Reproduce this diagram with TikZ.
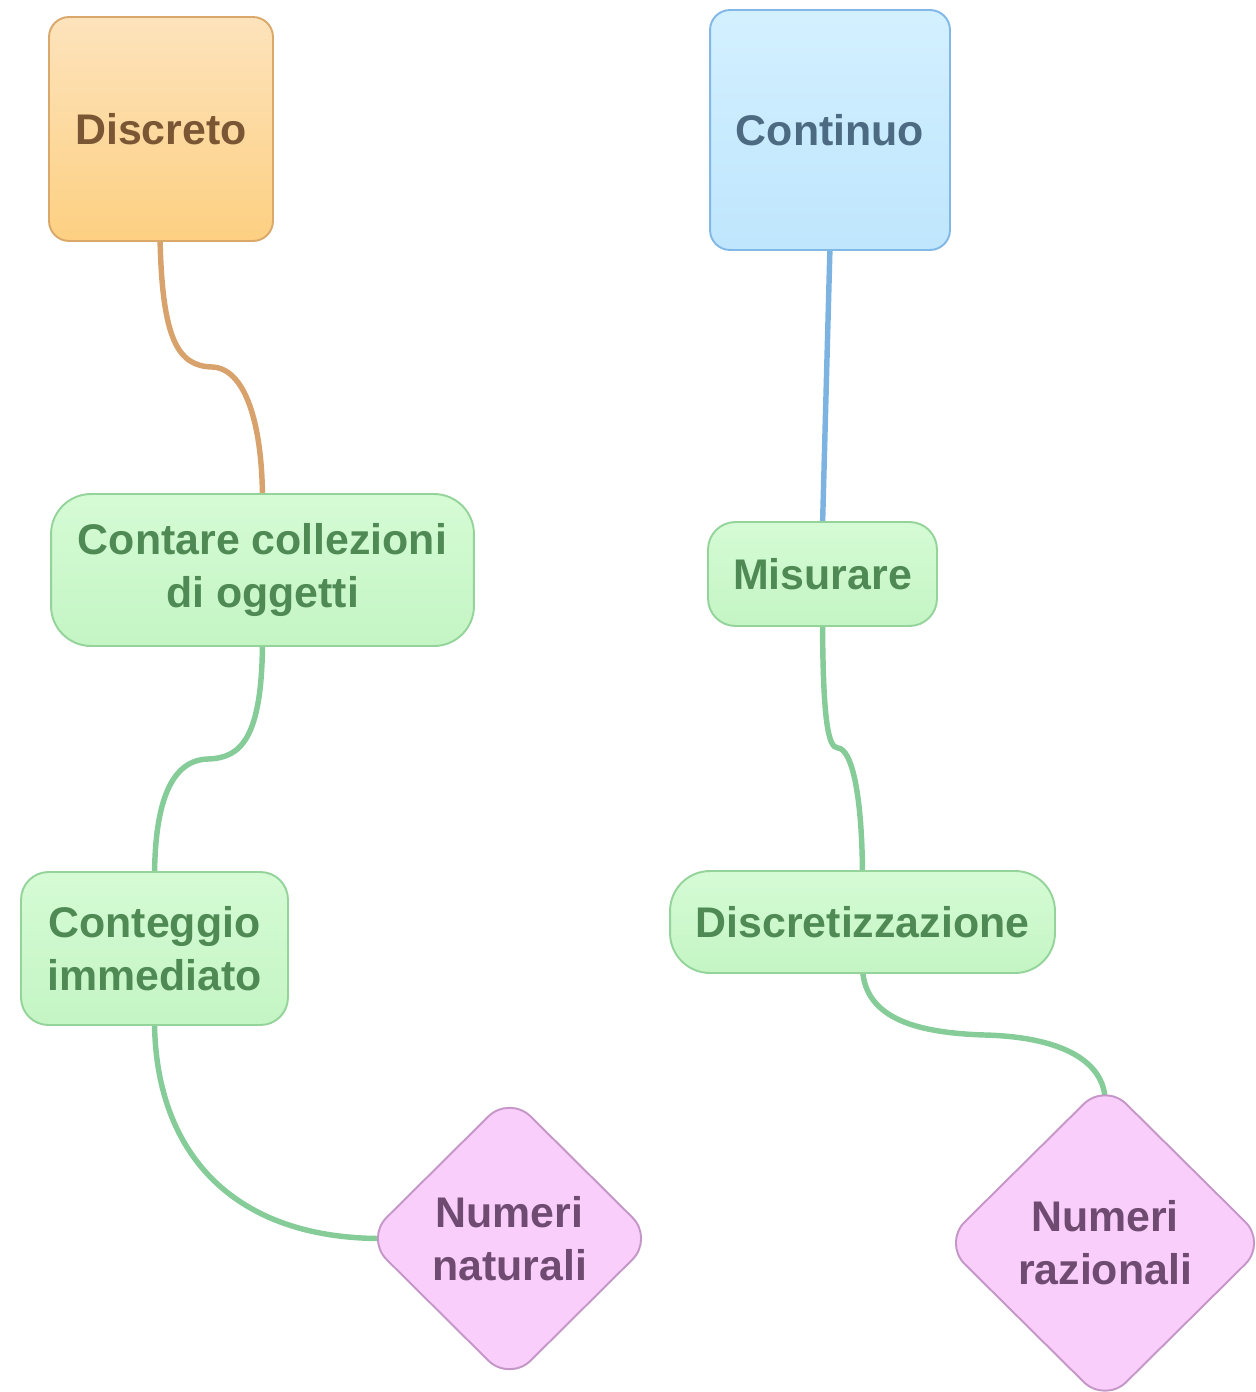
\documentclass[tikz,border=0pt]{standalone}
\usepackage{fontspec}
\setmainfont{Liberation Sans}
\usetikzlibrary{shapes.geometric,backgrounds,calc}
\definecolor{dtop}{HTML}{FDE3BC}
\definecolor{dbot}{HTML}{FDD082}
\definecolor{ddraw}{HTML}{D9A86A}
\definecolor{dtext}{HTML}{7B5634}
\definecolor{ctop}{HTML}{D3F0FF}
\definecolor{cbot}{HTML}{BFE6FD}
\definecolor{cdraw}{HTML}{82B8E6}
\definecolor{ctext}{HTML}{4C6B82}
\definecolor{gtop}{HTML}{D5FBD5}
\definecolor{gbot}{HTML}{C4F5C4}
\definecolor{gdraw}{HTML}{94D39A}
\definecolor{gtext}{HTML}{4F8A55}
\definecolor{pfill}{HTML}{F9CEFA}
\definecolor{pdraw}{HTML}{C597C8}
\definecolor{ptext}{HTML}{6F4B72}
\definecolor{eorange}{HTML}{D8A26C}
\definecolor{eblue}{HTML}{7DB3E0}
\definecolor{egreen}{HTML}{85CC98}
\tikzset{
  base/.style={font=\fontsize{24.4}{30}\selectfont\bfseries, align=center, inner sep=0pt, line width=1.1pt},
  orangebox/.style={base, rectangle, rounded corners=0.4cm, draw=ddraw, top color=dtop, bottom color=dbot, text=dtext, minimum width=4.48cm, minimum height=4.48cm},
  bluebox/.style={base, rectangle, rounded corners=0.4cm, draw=cdraw, top color=ctop, bottom color=cbot, text=ctext, minimum width=4.8cm, minimum height=4.8cm},
  greenbox/.style={base, rectangle, draw=gdraw, top color=gtop, bottom color=gbot, text=gtext},
  pinkdia/.style={base, diamond, rounded corners=0.6cm, draw=pdraw, fill=pfill, text=ptext},
  conn/.style={line width=3.1pt, line cap=round}
}
\begin{document}
\begin{tikzpicture}[x=0.02cm,y=-0.02cm]
\useasboundingbox (0,0) rectangle (1256,1392);
\node[orangebox] (disc) at (161,129) {Discreto};
\node[bluebox] (cont) at (830,130) {Continuo};
\node[greenbox, rounded corners=0.8cm, minimum width=8.46cm, minimum height=3.04cm] (contare) at (262.5,570) {Contare collezioni\\di oggetti};
\node[greenbox, rounded corners=0.55cm, minimum width=4.58cm, minimum height=2.08cm] (mis) at (822.5,574) {Misurare};
\node[greenbox, rounded corners=0.55cm, minimum width=5.34cm, minimum height=3.06cm] (imm) at (154.5,948.5) {Conteggio\\immediato};
\node[greenbox, rounded corners=0.8cm, minimum width=7.7cm, minimum height=2.04cm] (discr) at (862.5,922) {Discretizzazione};
\node[pinkdia, minimum width=5.78cm, minimum height=5.74cm] (nat) at (509.5,1238.5) {Numeri\\naturali};
\node[pinkdia, minimum width=6.48cm, minimum height=6.42cm] (raz) at (1105,1243) {Numeri\\razionali};
\begin{scope}[on background layer]
\draw[conn, eorange] ($(disc.south)+(-1,-5)$) .. controls (162,340) and (178,366) .. (212,367) .. controls (244,368) and (262,420) .. ($(contare.north)+(0,5)$);
\draw[conn, egreen] ($(contare.south)+(0,-5)$) .. controls (262,740) and (240,758) .. (208,759) .. controls (172,760) and (155,800) .. ($(imm.north)+(0,5)$);
\draw[conn, egreen] ($(imm.south)+(0,-5)$) .. controls (155,1150) and (230,1238) .. ($(nat.west)+(16,0)$);
\draw[conn, eblue] ($(cont.south)+(0,-5)$) -- ($(mis.north)+(0,5)$);
\draw[conn, egreen] ($(mis.south)+(0,-5)$) .. controls (823,720) and (828,748) .. (838,748) .. controls (851,749) and (862,790) .. ($(discr.north)+(0,5)$);
\draw[conn, egreen] ($(discr.south)+(0,-5)$) .. controls (865,1020) and (920,1033) .. (985,1035) .. controls (1060,1037) and (1102,1060) .. ($(raz.north)+(0,16)$);
\end{scope}
\end{tikzpicture}
\end{document}
